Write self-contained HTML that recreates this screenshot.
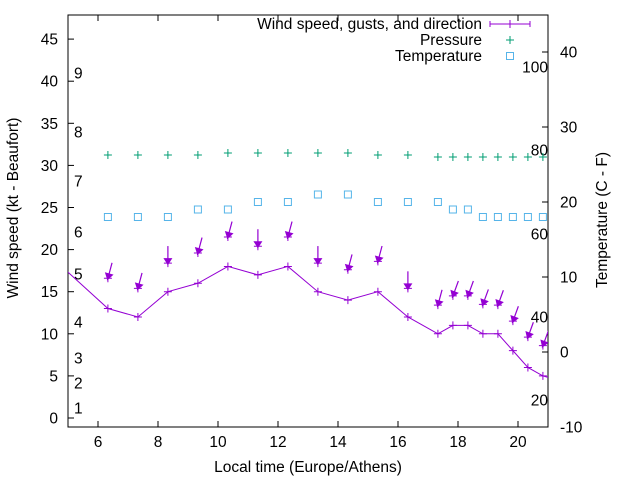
<!DOCTYPE html>
<html><head><meta charset="utf-8"><style>
html,body{margin:0;padding:0;background:#fff}
svg{display:block;font-family:"Liberation Sans",Arial,sans-serif}
</style></head><body>
<svg id="chart" width="640" height="480" viewBox="0 0 640 480" xmlns="http://www.w3.org/2000/svg">
<g id="axes"></g>
<g id="marks"></g>
<text transform="translate(18,208) rotate(-90)" text-anchor="middle" font-size="15.5">Wind speed (kt - Beaufort)</text>
<text transform="translate(607,220) rotate(-90)" text-anchor="middle" font-size="15.5">Temperature (C - F)</text>
<text x="308" y="472" text-anchor="middle" font-size="15.5">Local time (Europe/Athens)</text>
<g font-size="15.5">
<text x="482" y="29" text-anchor="end">Wind speed, gusts, and direction</text>
<line x1="490" y1="24" x2="530" y2="24" stroke="#9400d3" stroke-width="1"/>
<path d="M506 24h8M510 20v8M490 21v6M530 21v6" stroke="#9400d3" stroke-width="1"/>
<text x="482" y="45" text-anchor="end">Pressure</text>
<path d="M506 40h8M510 36v8" stroke="#009e73" stroke-width="1"/>
<text x="482" y="61" text-anchor="end">Temperature</text>
<rect x="506.5" y="52.5" width="7" height="7" fill="none" stroke="#56b4e9" stroke-width="1"/>
</g>
</svg>
<script>
const times = [4.33,6.33,7.33,8.33,9.33,10.33,11.33,12.33,13.33,14.33,15.33,16.33,17.33,17.83,18.33,18.83,19.33,19.83,20.33,20.83,21.33];
const windKt = [19.5,13,12,15,16,18,17,18,15,14,15,12,10,11,11,10,10,8,6,5,4.5];
const gustKt = [null,16.6,15.4,18.4,19.6,21.5,20.4,21.5,18.4,17.6,18.6,15.4,13.4,14.5,14.5,13.5,13.4,11.5,9.6,8.6,null];
const dirDeg = [null,15,15,0,15,15,0,15,0,15,15,0,15,20,20,20,20,20,20,20,null];
const pressure = [null,1012,1012,1012,1012,1013,1013,1013,1013,1013,1012,1012,1011,1011,1011,1011,1011,1011,1011,1011,null];
const tempC = [null,18,18,18,19,19,20,20,21,21,20,20,20,19,19,18,18,18,18,18,null];
const xTicks = [6,8,10,12,14,16,18,20];
const yTicks = [0,5,10,15,20,25,30,35,40,45];
const y2Ticks = [-10,0,10,20,30,40];
const beaufortLabels = ["1","2","3","4","5","6","7","8","9"];
const beaufortY = [408,383,358,322,274,232,181,132,73];
const humidityLabels = ["100","80","60","40","20"];
const humidityY = [67,150,234,317,400];

const L=68,R=548,T=15,B=427;
const sx=t=>L+(t-5)*30;
const sy=v=>418-v*8.42;
const sy2=c=>B-(c+10)*7.5;
const sp=p=>155-(p-1012)*2;
const NS="http://www.w3.org/2000/svg";
function mk(tag,attrs,parent){const e=document.createElementNS(NS,tag);for(const k in attrs)e.setAttribute(k,attrs[k]);parent.appendChild(e);return e;}
const ax=document.getElementById('axes'), mg=document.getElementById('marks');
let r=mk('rect',{x:L,y:T,width:R-L,height:B-T,fill:'none',stroke:'#000','stroke-width':1},ax);


xTicks.forEach(t=>{const x=sx(t);
 mk('path',{d:`M${x} ${B}v-6M${x} ${T}v6`,stroke:'#000'},ax);
 const tx=mk('text',{x:x,y:B+20,'text-anchor':'middle','font-size':15.5},ax);tx.textContent=t;
 
 });
yTicks.forEach(v=>{const y=sy(v);
 mk('path',{d:`M${L} ${y}h6`,stroke:'#000'},ax);
 const tx=mk('text',{x:L-10,y:y+5.5,'text-anchor':'end','font-size':15.5},ax);tx.textContent=v;
 
 });
y2Ticks.forEach(v=>{const y=sy2(v);
 mk('path',{d:`M${R} ${y}h-6`,stroke:'#000'},ax);
 const tx=mk('text',{x:R+12,y:y+5.5,'text-anchor':'start','font-size':15.5},ax);tx.textContent=v;
 
 });
beaufortLabels.forEach((s,i)=>{const tx=mk('text',{x:74,y:beaufortY[i]+5.5,'font-size':15.5},ax);tx.textContent=s;
 
 });
humidityLabels.forEach((s,i)=>{const tx=mk('text',{x:548,y:humidityY[i]+5.5,'text-anchor':'end','font-size':15.5},ax);tx.textContent=s;
 
 });
mk('clipPath',{id:'clp'},mg);
mk('rect',{x:L,y:T,width:R-L,height:B-T},mg.lastChild);
const g=mk('g',{'clip-path':'url(#clp)'},mg);
const pts=times.map((t,i)=>sx(t)+','+sy(windKt[i])).join(' ');
const pl=mk('polyline',{points:pts,fill:'none',stroke:'#9400d3','stroke-width':1},g);


times.forEach((t,i)=>{const x=sx(t),y=sy(windKt[i]);
 const p=mk('path',{d:`M${x-4} ${y}h8M${x} ${y-4}v8`,stroke:'#9400d3'},g);
 
 
 if(gustKt[i]!=null){const gy=sy(gustKt[i]);const a=dirDeg[i]*Math.PI/180;const len=dirDeg[i]===0?13:12;
  const hx=x-Math.sin(a)*2,hy=gy+2;
  const x0=hx+Math.sin(a)*(len+6),y0=hy-Math.cos(a)*(len+6);
  const ux=-Math.sin(a),uy=Math.cos(a);const px=-uy,py=ux;
  const hb=7,hw=4.5;const bx=hx-ux*hb,by=hy-uy*hb;
  const ar=mk('g',{},g);
  
  
  mk('line',{x1:x0,y1:y0,x2:hx,y2:hy,stroke:'#9400d3','stroke-width':1.2},ar);
  mk('polygon',{points:`${hx},${hy} ${bx+px*hw},${by+py*hw} ${bx-px*hw},${by-py*hw}`,fill:'#9400d3'},ar);
  mk('path',{d:`M${x-4} ${gy}h8M${x} ${gy-4}v8`,stroke:'#9400d3'},ar);}
 if(pressure[i]!=null){const py2=sp(pressure[i]);
  const pp=mk('path',{d:`M${x-4} ${py2}h8M${x} ${py2-4}v8`,stroke:'#009e73'},g);
  
  }
 if(tempC[i]!=null){const ty=sy2(tempC[i]);
  const tr=mk('rect',{x:x-3.5,y:ty-3.5,width:7,height:7,fill:'none',stroke:'#56b4e9'},g);
  
  }
});
</script>
</body></html>
